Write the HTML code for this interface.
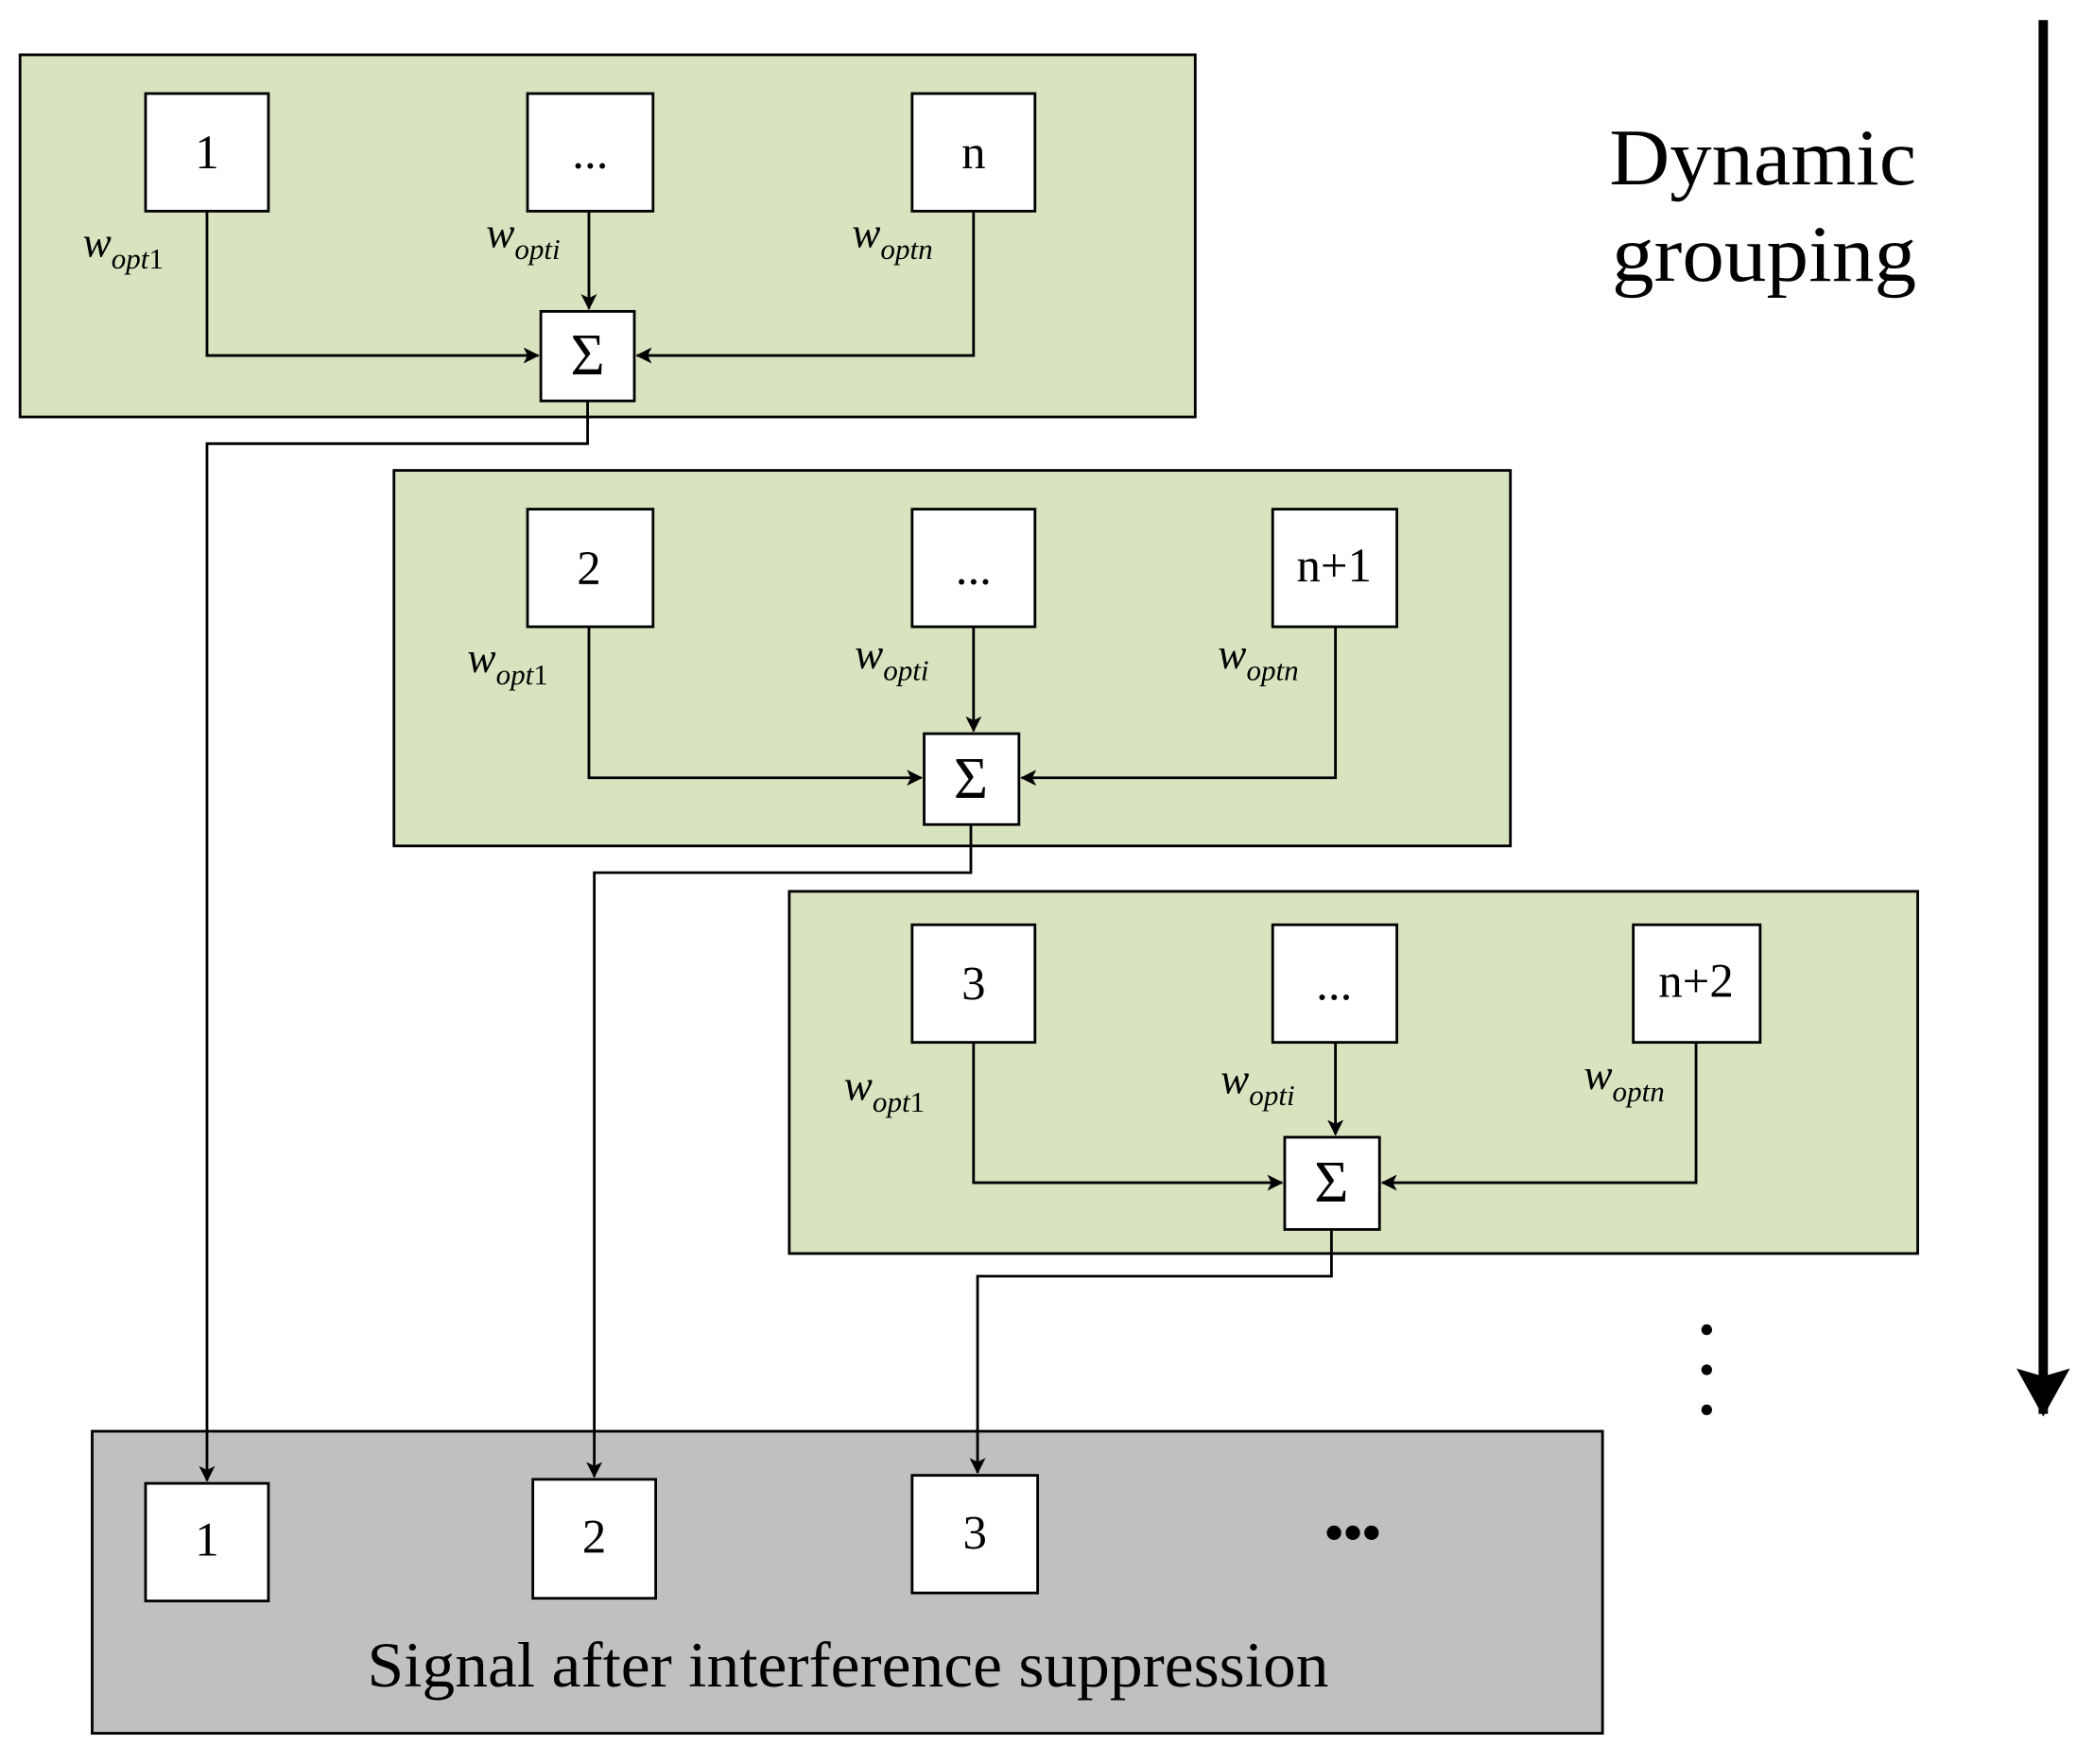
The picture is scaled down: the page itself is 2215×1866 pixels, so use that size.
<!DOCTYPE html>
<html><head><meta charset="utf-8"><style>
html,body{margin:0;padding:0;background:#fff;}
svg{display:block;}
text{font-family:"Liberation Serif",serif;fill:#000;}
</style></head><body>
<svg width="2215" height="1866" viewBox="0 0 1568 1320" preserveAspectRatio="none" xmlns="http://www.w3.org/2000/svg">
<defs>
<marker id="a" markerWidth="12" markerHeight="12" refX="11" refY="6" orient="auto" markerUnits="userSpaceOnUse"><path d="M0,0 L12,6 L0,12 L3,6 z" fill="#000"/></marker>
<marker id="b" markerWidth="36" markerHeight="40" refX="34" refY="20" orient="auto" markerUnits="userSpaceOnUse"><path d="M0,0 L36,20 L0,40 L6,20 z" fill="#000"/></marker>
</defs>
<g stroke="#000" stroke-width="2">
<rect x="15" y="41" width="880" height="271" fill="#d8e3c0"/>
<rect x="295" y="352" width="836" height="281" fill="#d8e3c0"/>
<rect x="591" y="667" width="845" height="271" fill="#d8e3c0"/>
<rect x="69" y="1071" width="1131" height="226" fill="#c0c0c0"/>
</g>
<g stroke="#000" stroke-width="2" fill="#fff">
<rect x="109" y="70" width="92" height="88"/><rect x="395" y="70" width="94" height="88"/><rect x="683" y="70" width="92" height="88"/>
<rect x="405" y="233" width="70" height="67"/>
<rect x="395" y="381" width="94" height="88"/><rect x="683" y="381" width="92" height="88"/><rect x="953" y="381" width="93" height="88"/>
<rect x="692" y="549" width="71" height="68"/>
<rect x="683" y="692" width="92" height="88"/><rect x="953" y="692" width="93" height="88"/><rect x="1223" y="692" width="95" height="88"/>
<rect x="962" y="851" width="71" height="69"/>
<rect x="109" y="1110" width="92" height="88"/><rect x="399" y="1107" width="92" height="89"/><rect x="683" y="1104" width="94" height="88"/>
</g>
<g stroke="#000" stroke-width="2" fill="none">
<path d="M155,158 V266 H403" marker-end="url(#a)"/>
<path d="M729,158 V266 H477" marker-end="url(#a)"/>
<path d="M441,158 V231" marker-end="url(#a)"/>
<path d="M440,300 V332 H155 V1108" marker-end="url(#a)"/>
<path d="M441,469 V582 H690" marker-end="url(#a)"/>
<path d="M1000,469 V582 H765" marker-end="url(#a)"/>
<path d="M729,469 V547" marker-end="url(#a)"/>
<path d="M727,617 V653 H445 V1105" marker-end="url(#a)"/>
<path d="M729,780 V885 H960" marker-end="url(#a)"/>
<path d="M1270,780 V885 H1035" marker-end="url(#a)"/>
<path d="M1000,780 V849" marker-end="url(#a)"/>
<path d="M997,920 V955 H732 V1102" marker-end="url(#a)"/>
<path d="M1530,15 V1058" stroke-width="7" marker-end="url(#b)"/>
</g>
<g font-size="36" text-anchor="middle">
<text x="155" y="126">1</text><text x="442" y="126">...</text><text x="729" y="126">n</text>
<text x="441" y="437">2</text><text x="729" y="437">...</text><text x="999" y="435">n+1</text>
<text x="729" y="748">3</text><text x="999" y="748">...</text><text x="1270" y="746">n+2</text>
<text x="155" y="1164">1</text><text x="445" y="1162">2</text><text x="730" y="1159">3</text>
<text x="440" y="280" font-size="44">Σ</text><text x="727" y="597" font-size="44">Σ</text><text x="997" y="899" font-size="44">Σ</text>
<text x="1013" y="1160" font-size="40" font-weight="bold">•••</text>
</g>
<text x="275" y="1262" font-size="48" textLength="720" lengthAdjust="spacingAndGlyphs">Signal after interference suppression</text>
<text x="1205" y="138" font-size="60" textLength="230" lengthAdjust="spacingAndGlyphs">Dynamic</text>
<text x="1207" y="210" font-size="60" textLength="228" lengthAdjust="spacingAndGlyphs">grouping</text>
<g fill="#000"><circle cx="1278" cy="995" r="4"/><circle cx="1278" cy="1025" r="4"/><circle cx="1278" cy="1055" r="4"/></g>
<g font-style="italic" font-size="32">
<text x="62" y="192">w<tspan font-size="22" dy="9">opt</tspan><tspan font-size="22" font-style="normal">1</tspan></text>
<text x="364" y="185">w<tspan font-size="22" dy="9">opti</tspan></text>
<text x="638" y="185">w<tspan font-size="22" dy="9">optn</tspan></text>
<text x="350" y="503">w<tspan font-size="22" dy="9">opt</tspan><tspan font-size="22" font-style="normal">1</tspan></text>
<text x="640" y="500">w<tspan font-size="22" dy="9">opti</tspan></text>
<text x="912" y="500">w<tspan font-size="22" dy="9">optn</tspan></text>
<text x="632" y="823">w<tspan font-size="22" dy="9">opt</tspan><tspan font-size="22" font-style="normal">1</tspan></text>
<text x="914" y="818">w<tspan font-size="22" dy="9">opti</tspan></text>
<text x="1186" y="815">w<tspan font-size="22" dy="9">optn</tspan></text>
</g>
</svg>
</body></html>
